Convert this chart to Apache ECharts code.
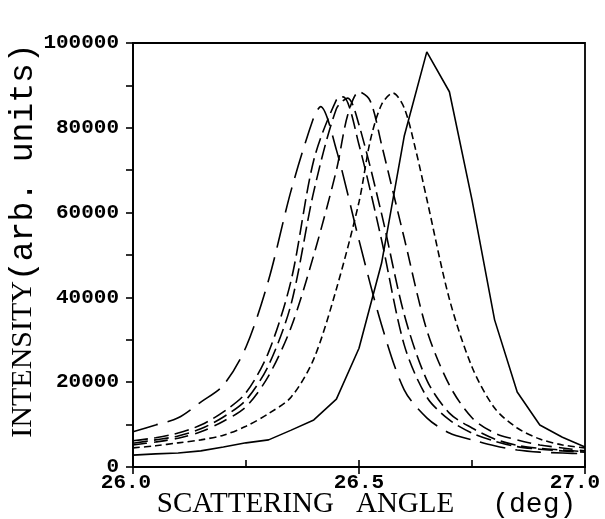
<!DOCTYPE html>
<html>
<head>
<meta charset="utf-8">
<script src="https://cdn.jsdelivr.net/npm/echarts@6/dist/echarts.min.js"></script>
<style>
  html, body { margin: 0; padding: 0; background: #fff; }
  #chart { width: 605px; height: 519px; }
</style>
</head>
<body>
<div id="chart"></div>
<script>
// scattering angle (deg), intensity (arb. units)
var curveA = [[26.0,8300],[26.05,9900],[26.1,11600],[26.15,15300],[26.2,19300],[26.25,28300],[26.3,44100],[26.35,65300],[26.4,82500],[26.415,85000],[26.45,74800],[26.5,53500],[26.55,33500],[26.6,18200],[26.65,11600],[26.7,8000],[26.75,6400],[26.8,5000],[26.85,4000],[26.9,3500],[26.95,3300],[27.0,3100]];
var curveB = [[26.0,6200],[26.05,6900],[26.1,8000],[26.15,9900],[26.2,13000],[26.25,17500],[26.3,27100],[26.35,44100],[26.4,72400],[26.45,86600],[26.465,87300],[26.5,76000],[26.55,53500],[26.6,28800],[26.65,16500],[26.7,11100],[26.75,8000],[26.8,6100],[26.85,4800],[26.9,4200],[26.95,3800],[27.0,3500]];
var curveC = [[26.0,5600],[26.05,6400],[26.1,7300],[26.15,9000],[26.2,11800],[26.25,15800],[26.3,24000],[26.35,38500],[26.4,65000],[26.45,84500],[26.475,87000],[26.5,80700],[26.55,59700],[26.6,36000],[26.65,20500],[26.7,12700],[26.75,9200],[26.8,6600],[26.85,5100],[26.9,4400],[26.95,4000],[27.0,3600]];
var curveD = [[26.0,5200],[26.05,5900],[26.1,6800],[26.15,8300],[26.2,10800],[26.25,14200],[26.3,21500],[26.35,33000],[26.4,50000],[26.45,70000],[26.475,83000],[26.5,88500],[26.525,86300],[26.55,76000],[26.6,54000],[26.65,32300],[26.7,19300],[26.75,11600],[26.8,8000],[26.85,6400],[26.9,5200],[26.95,4500],[27.0,3800]];
var curveE = [[26.0,4500],[26.05,5000],[26.1,5700],[26.15,6400],[26.2,7500],[26.25,9600],[26.3,12600],[26.35,16500],[26.4,25500],[26.45,42000],[26.5,62500],[26.525,77000],[26.55,85500],[26.575,88200],[26.6,84700],[26.625,75000],[26.65,63200],[26.7,39600],[26.75,23600],[26.8,13900],[26.85,9200],[26.9,6600],[26.95,5200],[27.0,4500]];
var curveF = [[26.0,2800],[26.05,3100],[26.1,3300],[26.15,3800],[26.2,4700],[26.25,5700],[26.3,6400],[26.35,8700],[26.4,11100],[26.45,16000],[26.5,28000],[26.55,48100],[26.6,78000],[26.65,97900],[26.7,88500],[26.75,63000],[26.8,34700],[26.85,17700],[26.9,9900],[26.95,7000],[27.0,4700]];

var yLabels = [0, 20000, 40000, 60000, 80000, 100000];

var monoFont = 'Liberation Mono';
var serifFont = 'Liberation Serif';

function curve(data, dash, smooth) {
  return {
    type: 'line',
    data: data,
    showSymbol: false,
    smooth: smooth,
    silent: true,
    lineStyle: { color: '#000', width: 1.6, type: dash },
    xAxisIndex: 0,
    yAxisIndex: 0
  };
}

var labelStyle = { fontFamily: monoFont, fontWeight: 'bold', fontSize: 21, color: '#000' };

var option = {
  backgroundColor: '#fff',
  animation: false,
  grid: {
    left: 133, right: 20, top: 43, bottom: 52,
    outerBoundsMode: 'none',
    containLabel: false,
    show: true, borderColor: '#000', borderWidth: 1.8
  },
  xAxis: [
    {
      type: 'value',
      min: 26, max: 27, interval: 0.5,
      axisLine: { show: true, lineStyle: { color: '#000', width: 1.8 } },
      axisTick: { show: true, length: 7, lineStyle: { color: '#000', width: 1.6 } },
      splitLine: { show: false },
      axisLabel: {
        margin: 5,
        color: '#000',
        fontFamily: monoFont,
        fontWeight: 'bold',
        fontSize: 21,
        formatter: function (v) {
          if (v === 26) return '{l|26.0}';
          if (v === 27) return '{r|27.0}';
          return '{c|' + v.toFixed(1) + '}';
        },
        rich: {
          l: Object.assign({ padding: [0, 14, 0, 0] }, labelStyle),
          r: Object.assign({ padding: [0, 20, 0, 0] }, labelStyle),
          c: labelStyle
        }
      },
      name: '{s|SCATTERING}{g1|}{s|ANGLE}{g2|}{m|(deg)}',
      nameLocation: 'middle',
      nameGap: 23,
      nameMoveOverlap: false,
      nameTextStyle: {
        padding: [0, 0, 0, 15],
        rich: {
          s: { fontFamily: serifFont, fontSize: 29, color: '#000' },
          m: { fontFamily: monoFont, fontSize: 28, color: '#000' },
          g1: { width: 22 },
          g2: { width: 38 }
        }
      }
    },
    {
      type: 'value',
      min: 26, max: 27, interval: 0.25,
      position: 'bottom',
      axisLine: { show: false },
      axisTick: { show: true, inside: true, length: 7, lineStyle: { color: '#000', width: 1.6 } },
      axisLabel: { show: false },
      splitLine: { show: false }
    }
  ],
  yAxis: [
    {
      type: 'value',
      min: 0, max: 100000, interval: 10000,
      axisLine: { show: true, lineStyle: { color: '#000', width: 1.8 } },
      axisTick: { show: true, length: 7, lineStyle: { color: '#000', width: 1.6 } },
      splitLine: { show: false },
      axisLabel: {
        margin: 14,
        color: '#000',
        fontFamily: monoFont,
        fontWeight: 'bold',
        fontSize: 21,
        formatter: function (v) { return yLabels.indexOf(v) >= 0 ? String(v) : ''; }
      }
    },
    {
      // carries only the axis title
      type: 'value',
      position: 'left',
      min: 0, max: 100000,
      axisLine: { show: false },
      axisTick: { show: false },
      axisLabel: { show: false },
      splitLine: { show: false },
      name: '{s|INTENSITY}{m|(arb. units)}',
      nameLocation: 'middle',
      nameGap: 93,
      nameMoveOverlap: false,
      nameTextStyle: {
        padding: [0, 0, 0, 29],
        rich: {
          s: { fontFamily: serifFont, fontSize: 30, color: '#000' },
          m: { fontFamily: monoFont, fontSize: 33, color: '#000' }
        }
      }
    }
  ],
  series: [
    curve(curveA, [26, 10], 0.3),
    curve(curveB, [15, 6], 0.3),
    curve(curveC, [15, 6], 0.3),
    curve(curveD, [14, 7], 0.3),
    curve(curveE, [7, 4], 0.3),
    curve(curveF, 'solid', false)
  ]
};

var myChart = echarts.init(document.getElementById('chart'));
myChart.setOption(option);
</script>
</body>
</html>
